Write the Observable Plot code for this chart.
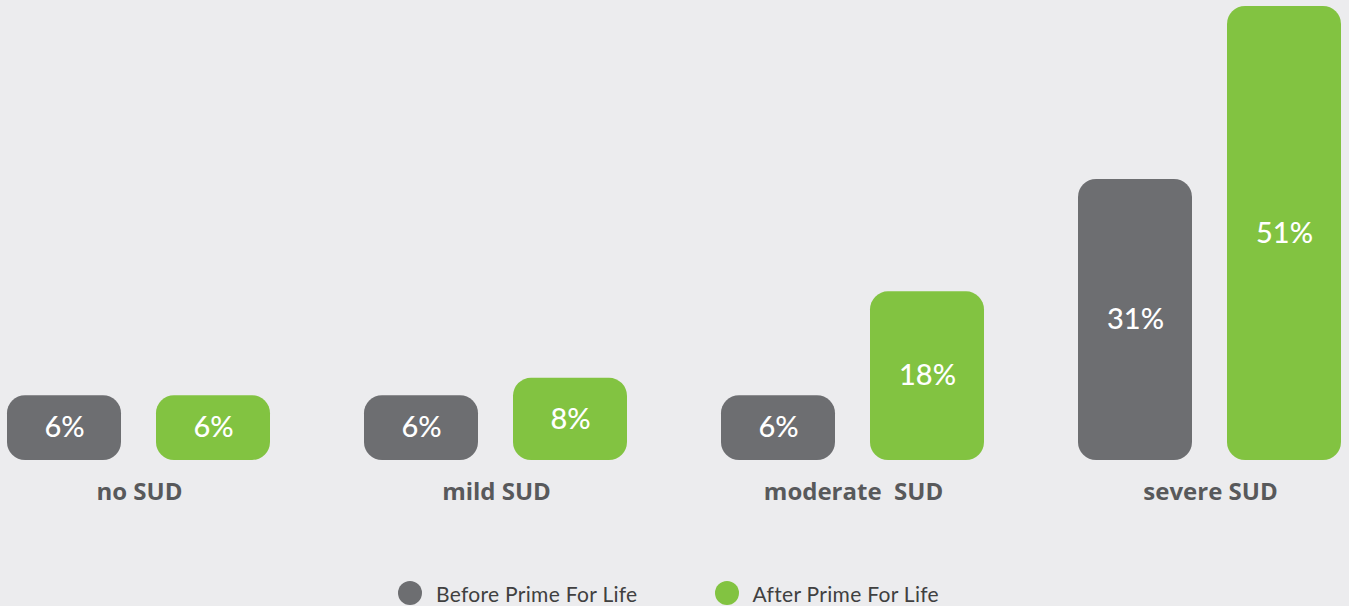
<!DOCTYPE html>
<html>
<head>
<meta charset="utf-8">
<script src="https://cdn.jsdelivr.net/npm/d3@7"></script>
<script src="https://cdn.jsdelivr.net/npm/@observablehq/plot@0.6"></script>
<style>
  html, body { margin: 0; padding: 0; background: #ececee; }
  #chart svg { display: block; }
  .legend { display: flex; align-items: center; height: 24px; margin-left: 398px; font-family: Lato, "Noto Sans", sans-serif; font-size: 21px; letter-spacing: 0.3px; color: #404040; }
  .legend .item { display: flex; align-items: center; }
  .legend .sw { width: 24px; height: 24px; border-radius: 50%; margin-right: 14px; }
  .legend .item + .item { margin-left: 77px; }
</style>
</head>
<body>
<div id="chart"></div>
<div class="legend" id="legend"></div>
<script>
const categories = ["no SUD", "mild SUD", "moderate  SUD", "severe SUD"];
const series = ["Before Prime For Life", "After Prime For Life"];
const before = [6, 6, 6, 31];
const after = [6, 8, 18, 51];
const colors = ["#6d6e71", "#82c341"];
const yBase = -1.5;

const data = [];
categories.forEach((c, i) => {
  data.push({category: c, series: series[0], value: before[i]});
  data.push({category: c, series: series[1], value: after[i]});
});

const chart = Plot.plot({
  width: 1349,
  height: 581,
  marginTop: 6,
  marginBottom: 121,
  marginLeft: 7,
  marginRight: 6,
  style: {background: "#ececee", whiteSpace: "pre"},
  fx: {domain: categories, paddingInner: 0.26, paddingOuter: 0, label: null, axis: null},
  x: {domain: series, paddingInner: 0.233, paddingOuter: 0, axis: null},
  y: {domain: [yBase, 51], axis: null},
  color: {domain: series, range: colors},
  marks: [
    Plot.barY(data, {fx: "category", x: "series", y1: yBase, y2: "value", fill: "series", rx: 18, ry: 18}),
    Plot.text(data, {fx: "category", x: "series", y: d => (yBase + d.value) / 2, text: d => d.value + "%", fill: "white", fontSize: 29, fontFamily: "Lato, sans-serif", fontWeight: 500}),
    Plot.axisFx({anchor: "bottom", tickSize: 0, tickPadding: 22, fontSize: 24, fontWeight: "bold", fontFamily: "'Open Sans', sans-serif", color: "#58595b", label: null})
  ]
});
document.getElementById("chart").appendChild(chart);

const legend = document.getElementById("legend");
series.forEach((s, i) => {
  const item = document.createElement("div");
  item.className = "item";
  const sw = document.createElement("span");
  sw.className = "sw";
  sw.style.background = colors[i];
  const t = document.createElement("span");
  t.textContent = s;
  item.appendChild(sw);
  item.appendChild(t);
  legend.appendChild(item);
});
</script>
</body>
</html>
